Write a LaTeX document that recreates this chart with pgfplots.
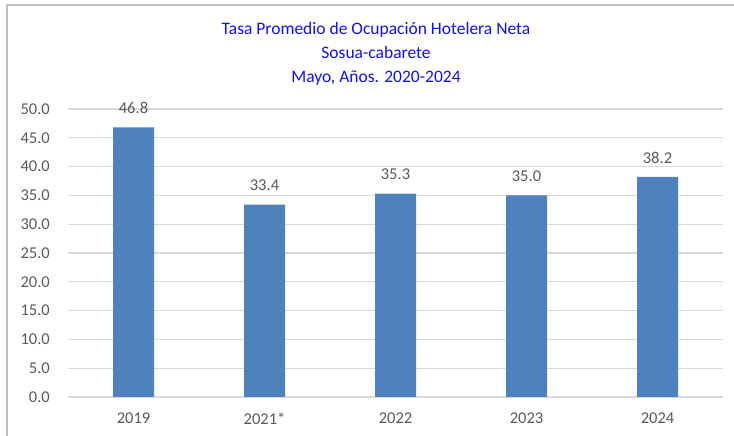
\documentclass[border=0pt]{standalone}
\usepackage{pgfplots}
\pgfplotsset{compat=1.18}
\usepackage{fontspec}
\setmainfont{Carlito}
\definecolor{barblue}{HTML}{4F81BD}
\definecolor{gridgray}{HTML}{D9D9D9}
\definecolor{ticktext}{HTML}{595959}
\definecolor{titleblue}{HTML}{1010F5}
\definecolor{framegray}{HTML}{BFBFBF}
\begin{document}
\begin{tikzpicture}[x=1pt,y=1pt]
\draw[framegray, line width=1.5pt] (7,0) -- (7,431) -- (734,431);
\node[titleblue, align=center, font=\fontsize{17.5}{24}\selectfont] at (376,382)
  {Tasa Promedio de Ocupación Hotelera Neta\\Sosua-cabarete\\Mayo, Años. 2020-2024};
\begin{axis}[
  at={(68pt,39pt)}, anchor=south west,
  scale only axis, width=655pt, height=288pt,
  xmin=-0.5, xmax=4.5, ymin=0, ymax=50,
  ytick={0,5,...,50},
  xtick=data, xticklabels={2019,2021*,2022,2023,2024},
  axis line style={draw=none},
  major tick length=0pt,
  ymajorgrids, grid style={gridgray, line width=1.2pt},
  ybar, bar width=41pt,
  yticklabel style={/pgf/number format/fixed, /pgf/number format/fixed zerofill, /pgf/number format/precision=1, anchor=east, inner sep=0pt, xshift=-18pt},
  /pgf/number format/assume math mode=true,
  ticklabel style={font=\fontsize{16.5}{18}\selectfont, text=ticktext},
  xticklabel style={anchor=north, inner sep=0pt, yshift=-15.5pt},
  nodes near coords,
  nodes near coords style={/pgf/number format/fixed, /pgf/number format/fixed zerofill, /pgf/number format/precision=1},
  every node near coord/.append style={font=\fontsize{16.5}{18}\selectfont, text=ticktext, anchor=south, inner sep=0pt, yshift=13.5pt},
]
\addplot[fill=barblue, draw=none] coordinates {(0,46.8) (1,33.4) (2,35.3) (3,35.0) (4,38.2)};
\end{axis}
\pgfresetboundingbox
\path[use as bounding box] (0,0) rectangle (734,436);
\end{tikzpicture}
\end{document}
